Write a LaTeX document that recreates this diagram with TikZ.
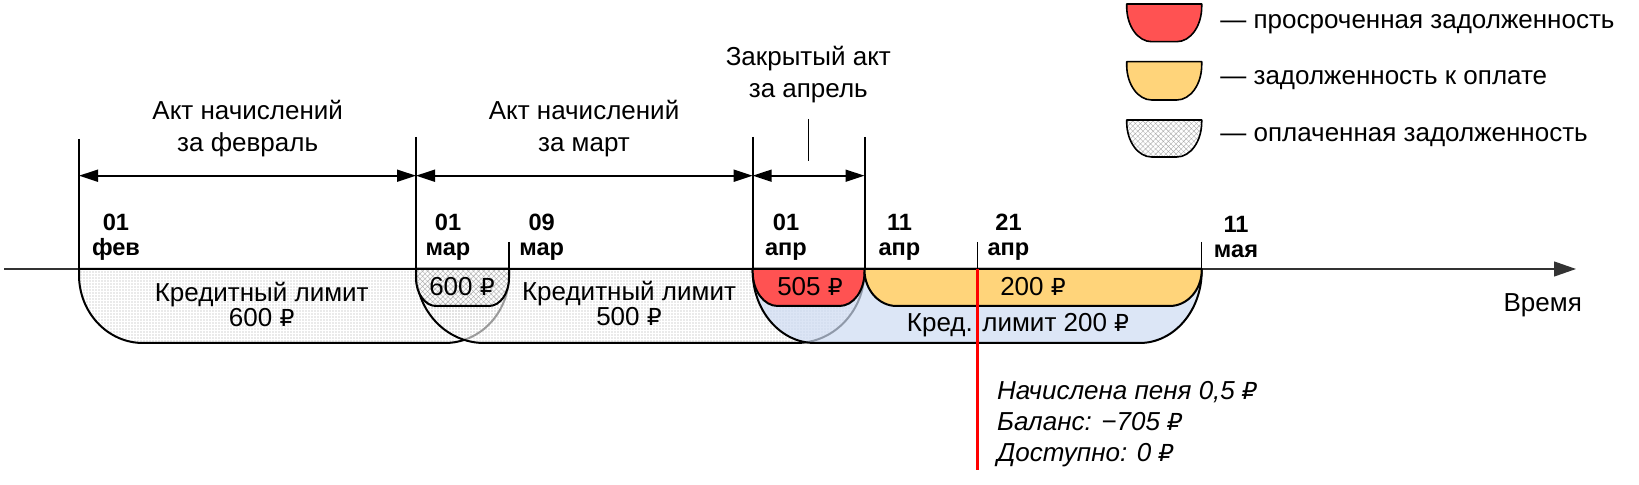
\documentclass[tikz,border=0pt]{standalone}
\usepackage{fontspec}
\setmainfont{Liberation Sans}
\newfontfamily\rubf[Scale=0.9]{DejaVu Sans}
\newcommand\rub{{\rubf ₽}}
\usetikzlibrary{arrows.meta,patterns.meta}
\definecolor{redf}{RGB}{255,82,82}
\definecolor{yelf}{RGB}{255,212,122}
\definecolor{bluef}{RGB}{205,219,242}
\newcommand\bowl[6]{(#1,#3) -- (#1,{#4-#6}) .. controls (#1,{#4-0.448*#6}) and ({#1+0.448*#5},#4) .. ({#1+#5},#4) -- ({#2-#5},#4) .. controls ({#2-0.448*#5},#4) and (#2,{#4-0.448*#6}) .. (#2,{#4-#6}) -- (#2,#3) -- cycle}
\tikzset{
  outl/.style={draw=black, line width=1pt, line join=round},
  txt/.style={font=\fontsize{13}{16}\selectfont, align=center, inner sep=0pt},
  datelbl/.style={font=\fontsize{11.8}{12.5}\selectfont\bfseries, align=center, inner sep=0pt},
  vline/.style={line width=1pt},
  dimline/.style={line width=0.9pt, {Triangle[length=9.5pt,width=6pt]}-{Triangle[length=9.5pt,width=6pt]}},
  dotsp/.style={pattern={Dots[distance=1.5pt,radius=0.3pt]}, pattern color=black!35},
  hatchp/.style={pattern={Hatch[angle=45,distance=1.8pt,line width=0.2pt]}, pattern color=black!32},
  legtxt/.style={font=\fontsize{13}{16}\selectfont, anchor=west, inner sep=0pt},
}
\begin{document}
\begin{tikzpicture}[x=0.5pt,y=-0.5pt]
\useasboundingbox (0,0) rectangle (1639,485);
% key coordinates
\coordinate (axL) at (4,269);
\coordinate (axR) at (1576,269);
\coordinate (tFeb) at (79,139);
\coordinate (tMar) at (416,137);
\coordinate (tApr) at (752.7,137);
\coordinate (tAprB) at (864.5,137);
\coordinate (aFeb) at (79,269);
\coordinate (aMar) at (416,269);
\coordinate (aApr) at (752.7,269);
\coordinate (aAprB) at (864.5,269);
\coordinate (dimy) at (0,175.7);
\coordinate (k09t) at (509,242);
\coordinate (k09) at (509,269);
\coordinate (k21t) at (977.3,242);
\coordinate (k21) at (977.3,269);
\coordinate (k21b) at (977.3,470);
\coordinate (kMayt) at (1201.7,242);
\coordinate (kMay) at (1201.7,269);
\coordinate (aprTickT) at (808.3,119);
\coordinate (aprTickB) at (808.3,161);

% axis
\draw[line width=0.6pt, black!80, -{Triangle[length=11pt,width=7.5pt]}] (axL) -- (axR);

% February credit limit
\path[dotsp] \bowl{79}{509}{269}{343}{64}{68};
\draw[outl] \bowl{79}{509}{269}{343}{64}{68};
% March credit limit
\fill[white,fill opacity=.6] \bowl{416}{864.5}{269}{343}{68}{72};
\path[dotsp] \bowl{416}{864.5}{269}{343}{68}{72};
\draw[outl] \bowl{416}{864.5}{269}{343}{68}{72};
% paid 600
\fill[white,fill opacity=.7] \bowl{416}{509}{269}{306}{20}{28};
\path[hatchp] \bowl{416}{509}{269}{306}{20}{28};
\draw[outl] \bowl{416}{509}{269}{306}{20}{28};
% April credit limit
\fill[bluef,fill opacity=.7] \bowl{752.7}{1201.7}{269}{343}{62}{72};
\draw[outl] \bowl{752.7}{1201.7}{269}{343}{62}{72};
% overdue 505
\fill[redf] \bowl{752.7}{864.5}{269}{306}{25}{34};
\draw[outl] \bowl{752.7}{864.5}{269}{306}{25}{34};
% to pay 200
\fill[yelf] \bowl{864.5}{1201.7}{269}{306}{32}{36};
\draw[outl] \bowl{864.5}{1201.7}{269}{306}{32}{36};

% vertical lines
\draw[vline] (tFeb) -- (aFeb);
\draw[vline] (tMar) -- (aMar);
\draw[vline] (tApr) -- (aApr);
\draw[vline] (tAprB) -- (aAprB);
\draw[line width=0.7pt] (k09t) -- (k09);
\draw[line width=0.7pt] (k21t) -- (k21);
\draw[line width=0.7pt] (kMayt) -- (kMay);
\draw[line width=0.5pt] (aprTickT) -- (aprTickB);

% dimension arrows
\draw[dimline] (tFeb |- dimy) -- (tMar |- dimy);
\draw[dimline] (tMar |- dimy) -- (tApr |- dimy);
\draw[dimline] (tApr |- dimy) -- (tAprB |- dimy);

% red marker line
\draw[red, line width=1.2pt] (k21) -- (k21b);

% headings
\node[txt] (hFeb) at (247.7,129) {Акт начислений\\за февраль};
\node[txt] (hMar) at (584,129) {Акт начислений\\за март};
\node[txt] (hApr) at (808.3,75) {Закрытый акт\\за апрель};

% dates
\node[datelbl] (dFeb) at (116,237.5) {01\\фев};
\node[datelbl] (dMar) at (448,237.5) {01\\мар};
\node[datelbl] (dMar9) at (541.7,237.5) {09\\мар};
\node[datelbl] (dApr) at (786,237.5) {01\\апр};
\node[datelbl] (dApr11) at (899.5,237.5) {11\\апр};
\node[datelbl] (dApr21) at (1008.5,237.5) {21\\апр};
\node[datelbl] (dMay) at (1236,237.5) {11\\мая};

% amounts
\node[txt, font=\fontsize{13}{12.5}\selectfont] (cFeb) at (261.7,304) {Кредитный лимит\\600 \rub};
\node[txt] (p600) at (462,286.7) {600 \rub};
\node[txt, font=\fontsize{13}{12.5}\selectfont] (cMar) at (629,303) {Кредитный лимит\\500 \rub};
\node[txt] (p505) at (810,286.7) {505 \rub};
\node[txt] (p200) at (1033,286.7) {200 \rub};
\node[txt] (cApr) at (1018,325) {Кред. лимит 200 \rub};
\node[txt] (time) at (1542.7,305) {Время};

% info
\node[txt, align=left, anchor=west, font=\fontsize{13}{15.5}\selectfont\itshape] (info) at (996.7,424) {Начислена пеня 0,5 \rub\\Баланс: −705 \rub\\Доступно: 0 \rub};

% legend
\fill[redf] \bowl{1126.7}{1201.7}{4}{41.7}{25}{35};
\draw[outl, line width=0.8pt] \bowl{1126.7}{1201.7}{4}{41.7}{25}{35};
\fill[yelf] \bowl{1126.7}{1201.7}{61.7}{100}{25}{35};
\draw[outl, line width=0.8pt] \bowl{1126.7}{1201.7}{61.7}{100}{25}{35};
\fill[white] \bowl{1126.7}{1201.7}{120}{157}{25}{35};
\path[hatchp] \bowl{1126.7}{1201.7}{120}{157}{25}{35};
\draw[outl, line width=0.8pt] \bowl{1126.7}{1201.7}{120}{157}{25}{35};
\node[legtxt] (l1) at (1220,24) {— просроченная задолженность};
\node[legtxt] (l2) at (1220,80) {— задолженность к оплате};
\node[legtxt] (l3) at (1220,136.7) {— оплаченная задолженность};
\end{tikzpicture}
\end{document}
